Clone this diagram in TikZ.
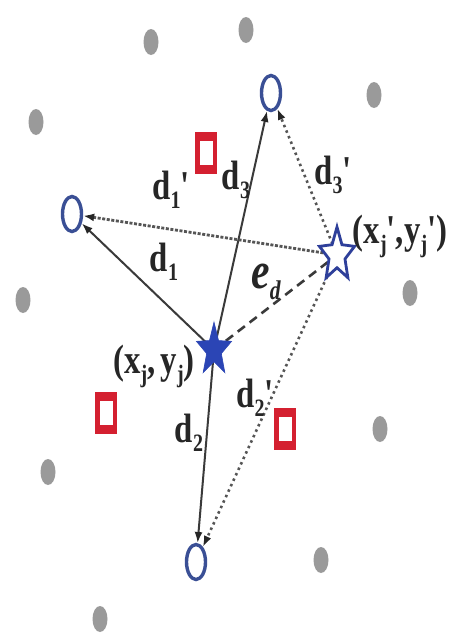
\documentclass[tikz,border=0pt]{standalone}
\usepackage{fontspec}
\setmainfont{Liberation Serif}
\usetikzlibrary{shapes.geometric,arrows.meta,backgrounds}
\newcommand\lsub[1]{\raisebox{-0.22em}{\fontsize{25}{25}\selectfont #1}}
\newcommand\lab[1]{\scalebox{0.8}[1]{\fontsize{41}{41}\selectfont\bfseries #1}}
\newcommand\pr{\textquotesingle}
\definecolor{dotgray}{HTML}{9A9A9A}
\definecolor{circblue}{HTML}{3A4F95}
\definecolor{starblue}{HTML}{2B45B5}
\definecolor{ostarblue}{HTML}{2E3F9A}
\definecolor{sqred}{HTML}{D42030}
\definecolor{linegray}{HTML}{3A3A3A}
\definecolor{dotline}{HTML}{555555}
\tikzset{
  gdot/.style={ellipse, fill=dotgray, minimum width=15pt, minimum height=26pt, inner sep=0pt},
  ocirc/.style={ellipse, draw=circblue, line width=3.4pt, fill=white, minimum width=19pt, minimum height=35pt, inner sep=0pt},
  rsq/.style={rectangle, fill=sqred, minimum width=22pt, minimum height=42pt, inner sep=0pt,
    path picture={\fill[white] ([xshift=-6.5pt,yshift=-12pt]path picture bounding box.center) rectangle ([xshift=6.5pt,yshift=12pt]path picture bounding box.center);}},
  fstar/.style={star, star points=5, star point ratio=2.4, minimum size=56pt, inner sep=0pt, fill=starblue, draw=starblue, line width=0.6pt, xscale=0.66, transform shape},
  ostar/.style={star, star points=5, star point ratio=2.2, minimum size=56pt, inner sep=0pt, fill=white, draw=ostarblue, line width=2.8pt, xscale=0.66, transform shape},
  lbl/.style={inner sep=0pt, anchor=center, text=black!85},
  tipk/.style={-{Latex[length=11pt,width=8pt,color=black!85]}},
  solidarr/.style={tipk, draw=linegray, line width=2pt},
  dotarr/.style={tipk, draw=dotline, line width=2.6pt, dash pattern=on 2.5pt off 3.5pt},
  densearr/.style={tipk, draw=dotline, line width=2.8pt, dash pattern=on 3pt off 1.6pt},
  dasharr/.style={draw=linegray, line width=2.6pt, dash pattern=on 9pt off 6pt}
}
\begin{document}
\begin{tikzpicture}[x=1pt,y=-1pt]
\useasboundingbox (0,0) rectangle (449,637);
% grey dots
\node[gdot] (g1) at (151,42) {};
\node[gdot] (g2) at (246,30) {};
\node[gdot] (g3) at (374,95) {};
\node[gdot] (g4) at (36,122) {};
\node[gdot] (g5) at (23,300) {};
\node[gdot] (g6) at (410,293) {};
\node[gdot] (g7) at (48,472) {};
\node[gdot] (g8) at (380,429) {};
\node[gdot] (g9) at (321,560) {};
\node[gdot] (g10) at (100,619) {};
% red squares
\node[rsq] (q1) at (206,153) {};
\node[rsq] (q2) at (106,413) {};
\node[rsq] (q3) at (285,429) {};
% circles
\node[ocirc] (A) at (72,214) {};
\node[ocirc] (B) at (271,93) {};
\node[ocirc] (C) at (196,562) {};
% stars
\node[fstar] (S) at (214,350) {};
\node[ostar] (T) at (337,255) {};
% labels
\node[lbl] (ld1) at (164,262) {\lab{d\lsub{1}}};
\node[lbl] (ld1p) at (171,190) {\lab{d\lsub{1}\pr}};
\node[lbl] (ld3) at (236,180) {\lab{d\lsub{3}}};
\node[lbl] (ld3p) at (333,175) {\lab{d\lsub{3}\pr}};
\node[lbl] (ld2) at (189,433) {\lab{d\lsub{2}}};
\node[lbl] (ld2p) at (255,398) {\lab{d\lsub{2}\pr}};
\node[lbl] (led) at (266,282) {\scalebox{0.8}[1]{\fontsize{52}{52}\selectfont\bfseries\itshape e\raisebox{-0.22em}{\fontsize{27}{27}\selectfont d}}};
\node[lbl] (lxy) at (154,366) {\lab{(x\lsub{j},\,y\lsub{j})}};
\node[lbl] (lxyp) at (400,236) {\lab{(x\lsub{j}\pr,y\lsub{j}\pr)}};
% connectors
\begin{pgfonlayer}{background}
\fill[white] (0,0) rectangle (449,637);
\draw[solidarr] (S.center) -- (A);
\draw[solidarr] (S.center) -- (B);
\draw[solidarr] (S.center) -- (C);
\draw[densearr] (T.center) -- (A);
\draw[dotarr] (T.center) -- (B);
\draw[dotarr] (T.center) -- (C);
\draw[dasharr] (S.center) -- (T.center);
\end{pgfonlayer}
\end{tikzpicture}
\end{document}
